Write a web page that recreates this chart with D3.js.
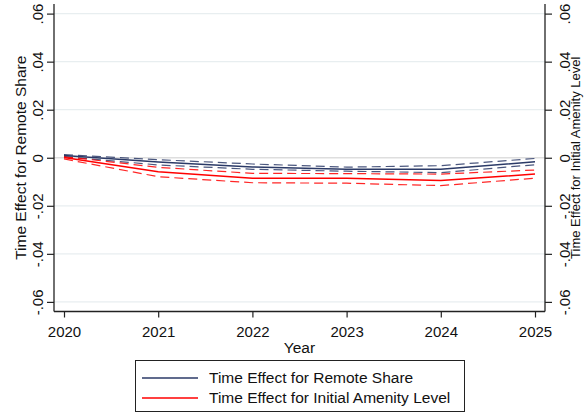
<!DOCTYPE html>
<html>
<head>
<meta charset="utf-8">
<script src="https://cdn.jsdelivr.net/npm/d3@7"></script>
<style>
  html, body { margin: 0; padding: 0; background: #fff; }
  svg { display: block; font-family: "Liberation Sans", Arial, sans-serif; }
</style>
</head>
<body>
<svg id="chart" width="584" height="415"></svg>
<script>
// Years on the x axis
const years = [2020, 2021, 2022, 2023, 2024, 2025];

// Time effect for remote share: point estimate and confidence bounds
const remoteEst   = [0.0009, -0.0018, -0.0038, -0.0048, -0.0048, -0.0017];
const remoteUpper = [0.0013, -0.0008, -0.0026, -0.0039, -0.0033, -0.0003];
const remoteLower = [0.0005, -0.0030, -0.0048, -0.0056, -0.0062, -0.0029];

// Time effect for initial amenity level: point estimate and confidence bounds
const amenityEst   = [0.0001, -0.0058, -0.0085, -0.0085, -0.0095, -0.0068];
const amenityUpper = [0.0005, -0.0040, -0.0065, -0.0066, -0.0068, -0.0051];
const amenityLower = [-0.0005, -0.0079, -0.0104, -0.0106, -0.0116, -0.0085];

// Tick values and labels for both y axes
const yTicks = [0.06, 0.04, 0.02, 0, -0.02, -0.04, -0.06];
const yTickLabels = [".06", ".04", ".02", "0", "-.02", "-.04", "-.06"];

const legendLabels = ["Time Effect for Remote Share", "Time Effect for Initial Amenity Level"];

const navy = "#2b3a67";
const red = "#ff0000";

const svg = d3.select("#chart");
const plotLeft = 54, plotRight = 545, plotTop = 4, plotBottom = 311.5;

const x = d3.scaleLinear().domain([2020, 2025]).range([64, 535]);
const y = d3.scaleLinear().domain([-0.064, 0.064]).range([plotBottom, plotTop]);

// Grid lines
svg.append("g").selectAll("line").data(yTicks).join("line")
  .attr("x1", plotLeft).attr("x2", plotRight)
  .attr("y1", d => y(d)).attr("y2", d => y(d))
  .attr("stroke", d => d === 0 ? "#dedede" : "#e8eef0")
  .attr("stroke-width", 1.3);

const fmt = d => yTickLabels[yTicks.indexOf(d)];

// Left y axis
const leftAxis = svg.append("g").attr("transform", `translate(${plotLeft},0)`)
  .call(d3.axisLeft(y).tickValues(yTicks).tickFormat(fmt).tickSize(7).tickPadding(3));
// Right y axis
const rightAxis = svg.append("g").attr("transform", `translate(${plotRight},0)`)
  .call(d3.axisRight(y).tickValues(yTicks).tickFormat(fmt).tickSize(7).tickPadding(3));
// Bottom x axis
const bottomAxis = svg.append("g").attr("transform", `translate(0,${plotBottom})`)
  .call(d3.axisBottom(x).tickValues(years).tickFormat(d3.format("d")).tickSize(6).tickPadding(9));

[leftAxis, rightAxis, bottomAxis].forEach(g => {
  g.selectAll("path.domain").remove();
  g.selectAll(".tick line").attr("stroke", "#222").attr("stroke-width", 1.2);
  g.selectAll(".tick text").attr("fill", "#111").attr("font-size", 15)
    .attr("font-family", "'Liberation Sans', Arial, sans-serif");
});

// Rotated tick labels on the y axes
leftAxis.selectAll(".tick text")
  .attr("x", null).attr("dy", null)
  .attr("text-anchor", "middle")
  .attr("transform", "translate(-11.5,0) rotate(-90)");
rightAxis.selectAll(".tick text")
  .attr("x", null).attr("dy", null)
  .attr("text-anchor", "middle")
  .attr("transform", "translate(24.5,0) rotate(-90)");

// Axis lines
const axisLines = svg.append("g").attr("stroke", "#222").attr("stroke-width", 1.3);
axisLines.append("line").attr("x1", plotLeft).attr("x2", plotLeft).attr("y1", plotTop).attr("y2", plotBottom);
axisLines.append("line").attr("x1", plotRight).attr("x2", plotRight).attr("y1", plotTop).attr("y2", plotBottom);
axisLines.append("line").attr("x1", plotLeft).attr("x2", plotRight).attr("y1", plotBottom).attr("y2", plotBottom);

// Axis titles
svg.append("text")
  .attr("transform", `translate(26,${(plotTop + plotBottom) / 2}) rotate(-90)`)
  .attr("text-anchor", "middle").attr("font-size", 15.5).attr("fill", "#111")
  .text("Time Effect for Remote Share");
svg.append("text")
  .attr("transform", `translate(580,${(plotTop + plotBottom) / 2}) rotate(-90)`)
  .attr("text-anchor", "middle").attr("font-size", 13).attr("fill", "#111")
  .text("Time Effect for Initial Amenity Level");
svg.append("text")
  .attr("x", (plotLeft + plotRight) / 2).attr("y", 353)
  .attr("text-anchor", "middle").attr("font-size", 15.5).attr("fill", "#111")
  .text("Year");

// Series lines
const line = d3.line().x((d, i) => x(years[i])).y(d => y(d));
const series = [
  { values: remoteUpper, color: navy, dashed: true },
  { values: remoteLower, color: navy, dashed: true },
  { values: amenityUpper, color: red, dashed: true },
  { values: amenityLower, color: red, dashed: true },
  { values: remoteEst, color: navy, dashed: false },
  { values: amenityEst, color: red, dashed: false }
];
svg.append("g").selectAll("path").data(series).join("path")
  .attr("d", d => line(d.values))
  .attr("fill", "none")
  .attr("stroke", d => d.color)
  .attr("stroke-width", d => d.dashed ? 1.2 : 1.5)
  .attr("stroke-opacity", d => d.dashed ? 0.85 : 1)
  .attr("stroke-dasharray", d => d.dashed ? "9,5" : null);

// Legend
const legend = svg.append("g");
legend.append("rect")
  .attr("x", 135.5).attr("y", 360.5).attr("width", 329).attr("height", 51)
  .attr("fill", "#fff").attr("stroke", "#222").attr("stroke-width", 1);
const legendColors = [navy, red];
legendLabels.forEach((label, i) => {
  const ly = 378 + i * 20;
  legend.append("line").attr("x1", 142).attr("x2", 198).attr("y1", ly).attr("y2", ly)
    .attr("stroke", legendColors[i]).attr("stroke-width", 1.5);
  legend.append("text").attr("x", 209).attr("y", ly + 5)
    .attr("font-size", 15.5).attr("fill", "#111").text(label);
});
</script>
</body>
</html>
